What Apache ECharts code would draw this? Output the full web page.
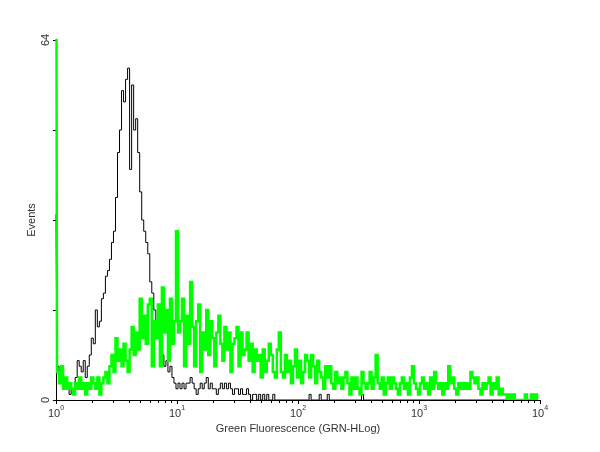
<!DOCTYPE html>
<html>
<head>
<meta charset="utf-8">
<script src="https://cdn.jsdelivr.net/npm/echarts@6/dist/echarts.min.js"></script>
<style>
html,body{margin:0;padding:0;background:#fff;}
#c{width:600px;height:452px;}
</style>
</head>
<body>
<div id="c"></div>
<script>
// Histogram channels: 240 bins spread evenly over 4 log decades (10^0 .. 10^4)
var binsPerDecade = 60;
var decadeLabels = ['0', '1', '2', '3', '4'];
var yTickValues = [0, 16, 32, 48, 64];
var yLabelsShown = [0, 64];

// Black (control) histogram counts
var blackCounts = [
33,6,5,4,2,3,2,1,2,2,
4,7,6,5,7,4,6,8,11,10,
16,13,14,18,19,22,23,25,28,30,
36,44,48,55,53,57,59,41,56,48,
50,44,37,32,30,28,26,21,19,16,
14,12,9,8,6,7,5,6,4,3,
2,3,2,3,2,3,3,4,3,2,
1,2,3,2,3,4,2,3,2,2,
1,2,3,2,3,2,3,2,1,2,
2,1,2,1,1,2,1,0,1,1,
0,1,0,1,0,1,0,0,1,0,
0,0,0,0,0,0,0,0,0,0,
0,0,0,0,0,0,1,0,0,0,
0,1,0,0,0,1,0,0,0,0,
0,0,0,0,0,0,0,0,0,0,
0,0,1,0,0,0,0,0,0,0,
0,0,0,0,0,0,0,0,0,0,
0,0,0,0,0,0,0,0,0,0,
0,0,0,0,0,0,0,0,0,0,
0,0,0,0,0,0,0,0,0,0,
0,0,0,0,0,0,0,0,0,0,
0,0,0,0,0,0,0,0,0,0,
0,0,0,0,0,0,0,0,0,0,
0,0,0,0,0,0,0,0,0,0
];

// Green (stained) histogram counts
var greenCounts = [
120,
5,3,6,2,4,2,
3,2,1,3,2,4,
2,3,1,3,2,4,
3,2,4,1,3,4,
5,3,6,8,
5,11,7,9,6,10,
7,5,9,13,8,12,
9,18,11,15,10,17,
18,6,14,11,17,6,
20,12,16,7,18,10,
14,30,12,14,18,6,
15,10,21,13,6,14,
17,5,12,9,16,8,
14,11,6,12,15,10,
7,13,9,12,5,10,
11,13,6,12,8,9,
12,7,10,5,9,7,
8,4,9,5,7,10,
8,5,4,9,12,5,
4,8,5,7,3,6,
9,4,7,3,5,8,
7,4,8,6,3,7,
5,4,2,6,4,6,
3,2,5,3,4,2,
4,5,3,1,4,2,
4,2,1,5,3,2,
3,5,2,4,8,3,
2,4,1,3,4,2,
4,3,2,1,3,4,
2,3,1,4,6,3,
2,1,3,4,2,3,
1,4,2,5,3,2,
3,1,3,2,6,3,
4,2,1,3,2,3,
2,3,2,5,4,3,
4,2,1,3,2,3,
4,1,3,2,4,1,
2,1,1,0,1,0,
1,0,0,0,0,0,
1,0,0,1,0,1,0
];

function toPairs(arr) {
  return arr.map(function (v, i) { return [i / binsPerDecade, v]; });
}

var minorTicks = [];
for (var d = 0; d < 4; d++) {
  for (var k = 2; k <= 9; k++) minorTicks.push(d + Math.log10(k));
}
var majorTicks = decadeLabels.map(function (s) { return Number(s); });

var chart = echarts.init(document.getElementById('c'), null, {renderer: 'canvas'});
var textColor = '#333';
var font = 'Liberation Sans, Arial, sans-serif';
chart.setOption({
  animation: false,
  backgroundColor: '#fff',
  grid: {left: 56, right: 60, top: 40, bottom: 52, containLabel: false},
  xAxis: [{
    type: 'value', min: 0, max: 4, interval: 1, z: 10,
    axisLine: {show: true, lineStyle: {color: '#000', width: 1}},
    axisTick: {show: true, length: 4, lineStyle: {color: '#000'}, customValues: majorTicks},
    axisLabel: {
      margin: 5,
      formatter: function (v) { return '{b|10}{s|' + Math.round(v) + '}'; },
      rich: {
        b: {fontFamily: font, fontSize: 11, color: textColor, lineHeight: 14, verticalAlign: 'bottom'},
        s: {fontFamily: font, fontSize: 7, color: textColor, lineHeight: 14, verticalAlign: 'top'}
      }
    },
    splitLine: {show: false},
    name: 'Green Fluorescence (GRN-HLog)',
    nameLocation: 'middle', nameGap: 18,
    nameTextStyle: {fontFamily: font, fontSize: 11, color: textColor}
  }, {
    type: 'value', min: 0, max: 4, position: 'bottom', z: 10,
    axisLine: {show: false},
    axisTick: {show: true, length: 3, lineStyle: {color: '#000'}, customValues: minorTicks},
    axisLabel: {show: false},
    splitLine: {show: false}
  }],
  yAxis: {
    type: 'value', min: 0, max: 64, interval: 16,
    axisLine: {show: true, lineStyle: {color: '#000', width: 1}},
    axisTick: {show: true, length: 3, lineStyle: {color: '#000'}},
    axisLabel: {
      rotate: 90, margin: 5,
      fontFamily: font, fontSize: 11, color: textColor,
      formatter: function (v) { return yLabelsShown.indexOf(v) >= 0 ? String(v) : ''; }
    },
    splitLine: {show: false},
    name: 'Events', nameLocation: 'middle', nameGap: 19, nameMoveOverlap: false,
    nameTextStyle: {fontFamily: font, fontSize: 11, color: textColor}
  },
  series: [{
    type: 'line', name: 'control', step: 'middle', xAxisIndex: 0,
    data: toPairs(blackCounts), showSymbol: false, clip: true,
    lineStyle: {color: '#000', width: 1}, z: 3
  }, {
    type: 'line', name: 'stained', step: 'middle', xAxisIndex: 0,
    data: toPairs(greenCounts), showSymbol: false, clip: true,
    lineStyle: {color: '#00ff00', width: 2.5, join: 'miter', cap: 'butt'}, z: 4
  }]
});
</script>
</body>
</html>
